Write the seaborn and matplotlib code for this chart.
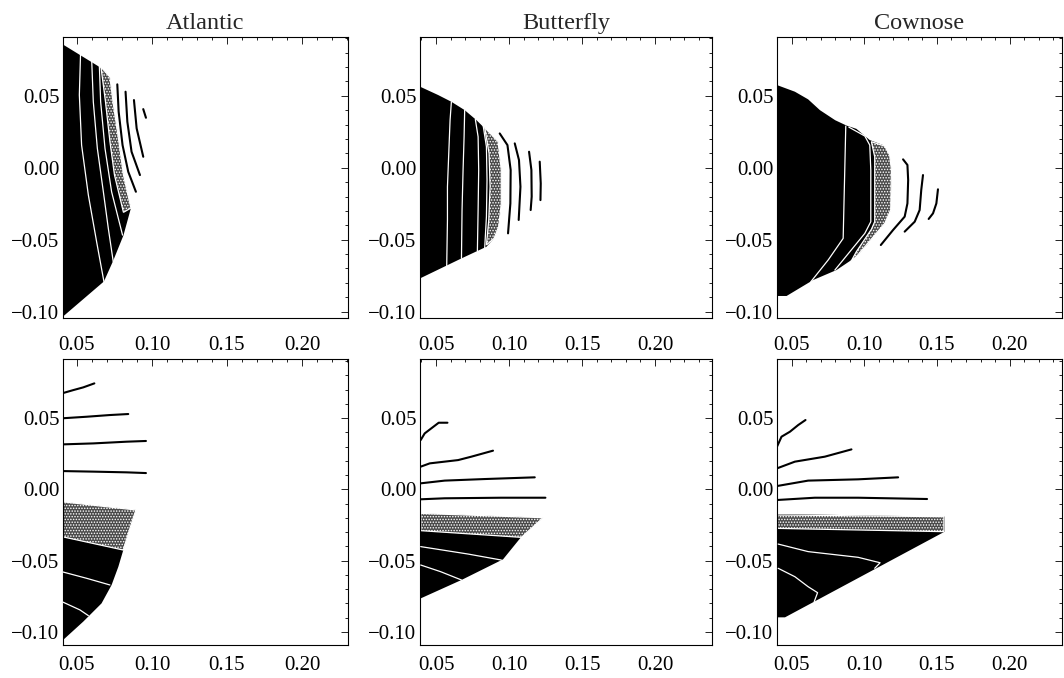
import matplotlib
matplotlib.use("Agg")
import matplotlib.pyplot as plt
from matplotlib.ticker import MultipleLocator, FuncFormatter
import seaborn as sns
import pandas as pd

# ---- panel titles / axis ranges -------------------------------------------
species = ["Atlantic", "Butterfly", "Cownose"]
col_xlims = [(0.0407, 0.2307), (0.039, 0.239), (0.040, 0.236)]
row_ylims = [(-0.1044, 0.0908), (-0.1092, 0.0914)]

# ---- top row: Atlantic ----------------------------------------------------
atl_top_fill_x = [0.040, 0.065, 0.072, 0.074, 0.078, 0.081, 0.086, 0.081, 0.074, 0.068, 0.040]
atl_top_fill_y = [0.086, 0.070, 0.063, 0.046, 0.018, -0.005, -0.028, -0.047, -0.065, -0.079, -0.104]
atl_top_band_x = [0.066, 0.069, 0.072, 0.075, 0.081, 0.086, 0.081, 0.078, 0.074, 0.072]
atl_top_band_y = [0.070, 0.046, 0.018, -0.005, -0.031, -0.028, -0.005, 0.018, 0.046, 0.063]
atl_top_white = [
    ([0.0524, 0.0516, 0.0531, 0.0576, 0.0631, 0.0680], [0.0794, 0.0505, 0.0157, -0.0190, -0.0514, -0.0792]),
    ([0.0598, 0.0609, 0.0636, 0.0676, 0.0709, 0.0742], [0.0755, 0.0458, 0.0134, -0.0167, -0.0421, -0.0653]),
    ([0.0649, 0.0658, 0.0687, 0.0731, 0.0804], [0.0718, 0.0458, 0.0134, -0.0167, -0.0468]),
]
atl_top_black = [
    ([0.0769, 0.0778, 0.0804, 0.0842, 0.0893], [0.0579, 0.0389, 0.0157, -0.0028, -0.0167]),
    ([0.0824, 0.0836, 0.0864, 0.0920], [0.0528, 0.0319, 0.0111, -0.0051]),
    ([0.0880, 0.0898, 0.0942], [0.0470, 0.0273, 0.0076]),
    ([0.0942, 0.0960], [0.0407, 0.0347]),
]

# ---- top row: Butterfly ---------------------------------------------------
but_top_fill_x = [0.039, 0.0514, 0.0605, 0.0696, 0.0776, 0.0845, 0.0925, 0.0947, 0.0947, 0.0929, 0.0897, 0.0845, 0.0674, 0.039]
but_top_fill_y = [0.0563, 0.0505, 0.0458, 0.0400, 0.0331, 0.0262, 0.0181, -0.0016, -0.0248, -0.0410, -0.0491, -0.0549, -0.0630, -0.0769]
but_top_band_x = [0.0833, 0.0863, 0.0870, 0.0861, 0.0845, 0.0897, 0.0929, 0.0947, 0.0947, 0.0925]
but_top_band_y = [0.0280, 0.0100, -0.0132, -0.0363, -0.0537, -0.0491, -0.0410, -0.0248, -0.0016, 0.0181]
but_top_white = [
    ([0.0605, 0.0596, 0.0587, 0.0578, 0.0578, 0.0573], [0.0458, 0.0331, 0.0100, -0.0132, -0.0363, -0.0681]),
    ([0.0696, 0.0692, 0.0685, 0.0678, 0.0674], [0.0400, 0.0215, -0.0016, -0.0294, -0.0630]),
    ([0.0769, 0.0788, 0.0792, 0.0788, 0.0783], [0.0336, 0.0215, -0.0016, -0.0294, -0.0579]),
    ([0.0822, 0.0845, 0.0849, 0.0845, 0.0833], [0.0296, 0.0146, -0.0086, -0.0340, -0.0560]),
]
but_top_black = [
    ([0.0936, 0.0989, 0.1011, 0.1009, 0.0993], [0.0238, 0.0157, -0.0016, -0.0248, -0.0456]),
    ([0.1039, 0.1068, 0.1078, 0.1066], [0.0169, 0.0053, -0.0132, -0.0363]),
    ([0.1137, 0.1153, 0.1155, 0.1148], [0.0111, -0.0016, -0.0201, -0.0294]),
    ([0.1210, 0.1217, 0.1215], [0.0042, -0.0109, -0.0225]),
]

# ---- top row: Cownose -----------------------------------------------------
cow_top_fill_x = [0.040, 0.0523, 0.0614, 0.0695, 0.0800, 0.0880, 0.0946, 0.1038, 0.1130, 0.1175, 0.1187, 0.1182, 0.1130, 0.1027, 0.0946, 0.0809, 0.0649, 0.0466, 0.040]
cow_top_fill_y = [0.0574, 0.0528, 0.0475, 0.0400, 0.0330, 0.0292, 0.0270, 0.0192, 0.0157, 0.0076, -0.0016, -0.0294, -0.0387, -0.0525, -0.0618, -0.0711, -0.0780, -0.0891, -0.0891]
cow_top_band_x = [0.1049, 0.1141, 0.1175, 0.1187, 0.1182, 0.1141, 0.0946, 0.0908, 0.0946, 0.1049, 0.1072, 0.1072]
cow_top_band_y = [0.0181, 0.0150, 0.0088, -0.0016, -0.0294, -0.0387, -0.0618, -0.0653, -0.0583, -0.0428, -0.0375, 0.0076]
cow_top_white = [
    ([0.0873, 0.0866, 0.0855, 0.0752, 0.0633], [0.0289, -0.0016, -0.0491, -0.0641, -0.0792]),
    ([0.0894, 0.1004, 0.1038, 0.1045, 0.1045, 0.1004, 0.0798], [0.0282, 0.0220, 0.0157, -0.0016, -0.0375, -0.0456, -0.0711]),
]
cow_top_black = [
    ([0.1267, 0.1297, 0.1302, 0.1297, 0.1278, 0.1198, 0.1114], [0.0058, 0.0019, -0.0086, -0.0248, -0.0340, -0.0433, -0.0537]),
    ([0.1404, 0.1392, 0.1381, 0.1347, 0.1278], [-0.0051, -0.0155, -0.0294, -0.0375, -0.0444]),
    ([0.1507, 0.1496, 0.1473, 0.1443], [-0.0150, -0.0248, -0.0317, -0.0356]),
]

# ---- bottom row: Atlantic -------------------------------------------------
atl_bot_fill_x = [0.040, 0.0893, 0.0853, 0.0809, 0.0776, 0.0731, 0.0664, 0.0542, 0.040]
atl_bot_fill_y = [-0.0087, -0.0145, -0.0274, -0.0426, -0.0543, -0.0671, -0.0800, -0.0928, -0.1064]
atl_bot_band_x = [0.040, 0.0893, 0.0853, 0.0809, 0.040]
atl_bot_band_y = [-0.0087, -0.0145, -0.0274, -0.0426, -0.0332]
atl_bot_white = [
    ([0.040, 0.0564, 0.0720], [-0.0578, -0.0624, -0.0671]),
    ([0.040, 0.0520, 0.0576], [-0.0788, -0.0846, -0.0886]),
]
atl_bot_black = [
    ([0.040, 0.0476, 0.0542, 0.0616], [0.0673, 0.0696, 0.0715, 0.0743]),
    ([0.040, 0.0564, 0.0720, 0.0842], [0.0498, 0.0509, 0.0521, 0.0528]),
    ([0.040, 0.0609, 0.0831, 0.0960], [0.0315, 0.0322, 0.0334, 0.0339]),
    ([0.040, 0.0609, 0.0831, 0.0960], [0.0128, 0.0124, 0.0119, 0.0114]),
]

# ---- bottom row: Butterfly ------------------------------------------------
but_bot_fill_x = [0.0395, 0.1233, 0.1085, 0.0959, 0.0674, 0.0395]
but_bot_fill_y = [-0.0169, -0.0199, -0.0332, -0.0491, -0.0636, -0.0765]
but_bot_band_x = [0.0395, 0.1233, 0.1085, 0.0395]
but_bot_band_y = [-0.0169, -0.0199, -0.0337, -0.0290]
but_bot_white = [
    ([0.0395, 0.0719, 0.0947], [-0.0402, -0.0454, -0.0496]),
    ([0.0395, 0.0532, 0.0674], [-0.0531, -0.0578, -0.0636]),
]
but_bot_black = [
    ([0.0395, 0.0422, 0.0468, 0.0518, 0.0578], [0.0346, 0.0392, 0.0428, 0.0467, 0.0467]),
    ([0.0395, 0.0457, 0.0651, 0.0742, 0.0890], [0.0159, 0.0182, 0.0205, 0.0229, 0.0271]),
    ([0.0395, 0.0559, 0.0833, 0.1176], [0.0042, 0.0061, 0.0072, 0.0084]),
    ([0.0395, 0.0559, 0.0947, 0.1249], [-0.0070, -0.0063, -0.0059, -0.0059]),
]

# ---- bottom row: Cownose --------------------------------------------------
cow_bot_fill_x = [0.040, 0.1553, 0.1553, 0.0455, 0.040]
cow_bot_fill_y = [-0.0173, -0.0192, -0.0297, -0.0898, -0.0898]
cow_bot_band_x = [0.040, 0.1548, 0.1548, 0.040]
cow_bot_band_y = [-0.0180, -0.0192, -0.0297, -0.0274]
cow_bot_white = [
    ([0.0408, 0.0614, 0.0958, 0.1109, 0.1072], [-0.0384, -0.0437, -0.0477, -0.0515, -0.0554]),
    ([0.0408, 0.0523, 0.0614, 0.0679, 0.0656], [-0.0554, -0.0613, -0.0683, -0.0725, -0.0788]),
]
cow_bot_black = [
    ([0.040, 0.0431, 0.0489, 0.0546, 0.0596], [0.0299, 0.0369, 0.0404, 0.0451, 0.0486]),
    ([0.040, 0.0523, 0.0729, 0.0912], [0.0147, 0.0194, 0.0229, 0.0280]),
    ([0.040, 0.0614, 0.0958, 0.1233], [0.0023, 0.0061, 0.0070, 0.0084]),
    ([0.040, 0.0660, 0.0958, 0.1432], [-0.0075, -0.0059, -0.0059, -0.0068]),
]

panels = [
    [(atl_top_fill_x, atl_top_fill_y, atl_top_band_x, atl_top_band_y, atl_top_white, atl_top_black),
     (but_top_fill_x, but_top_fill_y, but_top_band_x, but_top_band_y, but_top_white, but_top_black),
     (cow_top_fill_x, cow_top_fill_y, cow_top_band_x, cow_top_band_y, cow_top_white, cow_top_black)],
    [(atl_bot_fill_x, atl_bot_fill_y, atl_bot_band_x, atl_bot_band_y, atl_bot_white, atl_bot_black),
     (but_bot_fill_x, but_bot_fill_y, but_bot_band_x, but_bot_band_y, but_bot_white, but_bot_black),
     (cow_bot_fill_x, cow_bot_fill_y, cow_bot_band_x, cow_bot_band_y, cow_bot_white, cow_bot_black)],
]

sns.set_theme(style="white")
plt.rcParams['font.family'] = ['Liberation Serif', 'DejaVu Serif']
plt.rcParams['hatch.linewidth'] = 0.7

W, H = 1064, 678
fig = plt.figure(figsize=(W / 100, H / 100), dpi=100)

# axes frame positions in pixels (left, right) / (top, bottom)
col_px = [(63, 348), (420, 712), (777, 1062)]
row_px = [(37, 318), (359, 645)]
row_xpad = [13, 8]


def fmt(v, pos):
    if abs(v) < 1e-9:
        v = 0.0
    return f"{v:.2f}".replace('-', '\u2212')


def draw_lines(ax, lines, color, lw, z):
    for xs, ys in lines:
        df = pd.DataFrame({'x': xs, 'y': ys})
        sns.lineplot(data=df, x='x', y='y', sort=False, estimator=None,
                     color=color, lw=lw, ax=ax, zorder=z)


for r in range(2):
    for c in range(3):
        l, rr = col_px[c]
        t, b = row_px[r]
        ax = fig.add_axes([l / W, 1 - b / H, (rr - l) / W, (b - t) / H])
        fx, fy, bx, by, whites, blacks = panels[r][c]

        ax.fill(fx, fy, color='black', lw=0, zorder=1)
        ax.fill(bx, by, facecolor='#4a4a4a', edgecolor='white', hatch='......',
                lw=0.9, zorder=2)
        draw_lines(ax, whites, 'white', 0.9, 3)
        draw_lines(ax, blacks, 'black', 1.5, 4)

        ax.set_xlim(*col_xlims[c])
        ax.set_ylim(*row_ylims[r])
        ax.set_xlabel('')
        ax.set_ylabel('')
        ax.xaxis.set_major_locator(MultipleLocator(0.05))
        ax.xaxis.set_minor_locator(MultipleLocator(0.01))
        ax.yaxis.set_major_locator(MultipleLocator(0.05))
        ax.yaxis.set_minor_locator(MultipleLocator(0.01))
        ax.xaxis.set_major_formatter(FuncFormatter(fmt))
        ax.yaxis.set_major_formatter(FuncFormatter(fmt))
        ax.tick_params(which='both', direction='in', top=True, right=True,
                       colors='black', labelsize=15, width=0.6)
        ax.tick_params(which='major', length=5)
        ax.tick_params(axis='y', which='major', pad=2.5)
        ax.tick_params(axis='x', which='major', pad=row_xpad[r])
        ax.tick_params(which='minor', length=2.5)
        for sp in ax.spines.values():
            sp.set_color('black')
            sp.set_linewidth(0.8)
        if r == 0:
            ax.set_title(species[c], fontsize=17.5, pad=6)

fig.savefig("out.png", dpi=100)
